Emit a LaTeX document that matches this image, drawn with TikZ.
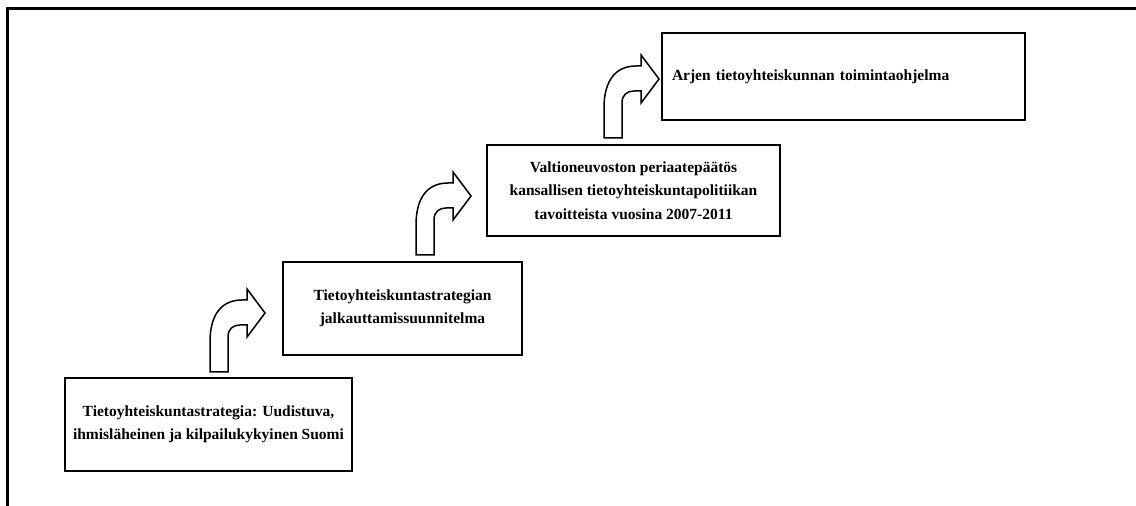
\documentclass[tikz,border=0pt]{standalone}
\usepackage{fontspec}
\setmainfont{Liberation Serif}
\begin{document}
\begin{tikzpicture}[x=1pt,y=1pt,
  stepbox/.style={draw,line width=2pt,align=center,inner sep=0pt,
    font=\bfseries\fontsize{15.5}{23.5}\selectfont},
  bentarrow/.pic={
    \draw[line width=1.5pt,line join=miter,fill=white]
      (0,0) -- (0,30) .. controls (0,58) and (12,72) .. (32,72)
      -- (37,72) -- (37,83) -- (55,59) -- (37,35) -- (37,47) -- (30,47)
      .. controls (23,47) and (18,43) .. (18,35) -- (18,0) -- cycle;
  }]
\useasboundingbox (0,0) rectangle (1136,506);
% outer frame
\draw[line width=3pt] (6,497) -- (1136,497);
\draw[line width=3pt] (7.5,498.5) -- (7.5,0);
% boxes
\node[stepbox,minimum width=287pt,minimum height=93pt] (b1) at (208.5,81.5)
  {Tietoyhteiskuntastrategia: Uudistuva,\\ihmisläheinen ja kilpailukykyinen Suomi};
\node[stepbox,minimum width=239pt,minimum height=93pt] (b2) at (402.5,197.5)
  {Tietoyhteiskuntastrategian\\jalkauttamissuunnitelma};
\node[stepbox,minimum width=293pt,minimum height=91pt] (b3) at (633.5,315.5)
  {Valtioneuvoston periaatepäätös\\kansallisen tietoyhteiskuntapolitiikan\\tavoitteista vuosina 2007-2011};
\node[stepbox,minimum width=363pt,minimum height=87pt,text width=343pt,
  align=left,inner xsep=10pt,text depth=3pt] (b4) at (843.5,429.5)
  {Arjen tietoyhteiskunnan toimintaohjelma};
% bent arrows
\pic at (210,134) {bentarrow};
\pic at (416,251) {bentarrow};
\pic at (604,368) {bentarrow};
\end{tikzpicture}
\end{document}
